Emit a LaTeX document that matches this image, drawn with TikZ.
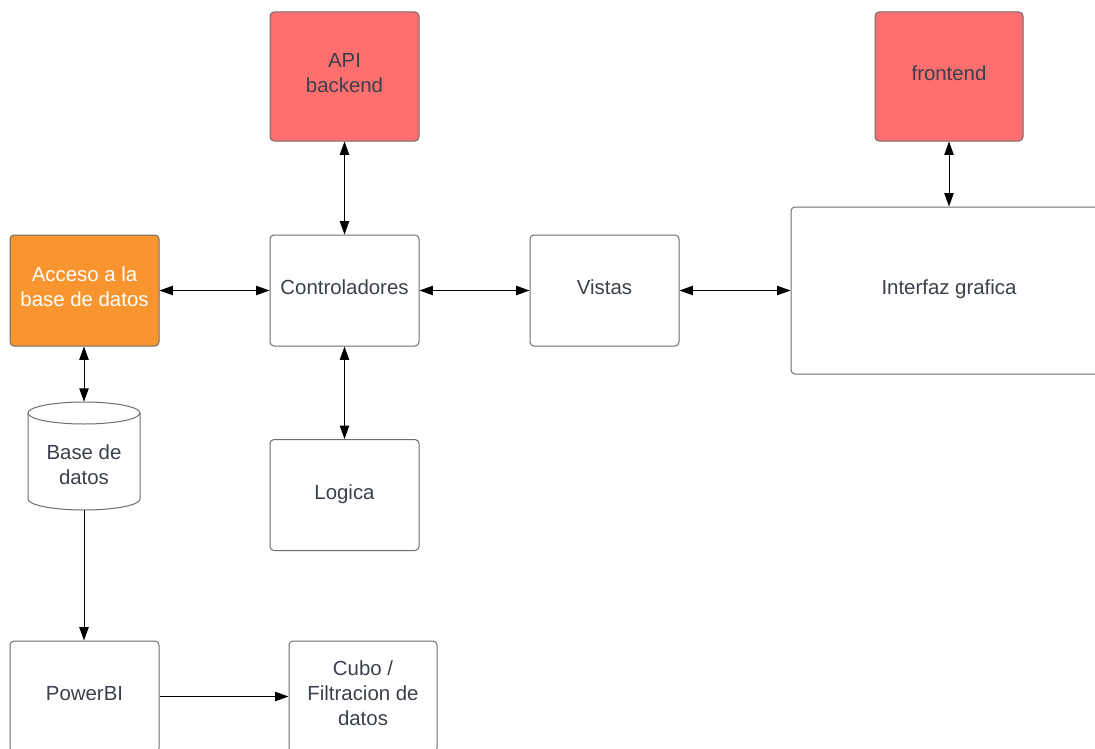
\documentclass[tikz,border=0pt]{standalone}
\usepackage{fontspec}
\setmainfont{Liberation Sans}
\usetikzlibrary{arrows.meta}
\definecolor{edge}{HTML}{6E6E6E}
\definecolor{ink}{HTML}{3A414A}
\definecolor{redbox}{HTML}{FF6F6F}
\definecolor{orangebox}{HTML}{F9952F}
\tikzset{
  labeltext/.style={inner sep=0pt, align=center, text=ink,
    font=\fontsize{15.3pt}{18.75pt}\selectfont,
    execute at begin node={\rule{0pt}{11.5pt}},
    execute at end node={\rule[-5.5pt]{0pt}{5.5pt}}},
  block/.style={labeltext, draw=edge, line width=0.75pt, rounded corners=3pt, fill=white,
    minimum width=111.75pt, minimum height=83.25pt},
  hot/.style={block, fill=redbox},
  warm/.style={block, fill=orangebox, text=white},
  link/.style={line width=0.75pt, black,
    {Triangle[length=10pt,width=7pt]}-{Triangle[length=10pt,width=7pt]}},
  flow/.style={line width=0.75pt, black, -{Triangle[length=10pt,width=7pt]}}
}
\begin{document}
\begin{tikzpicture}[x=0.75pt, y=-0.75pt]
  \clip (0,0) rectangle (1095,749);
  \fill[white] (0,0) rectangle (1095,749);

  % top row: services
  \node[hot, minimum height=96.75pt] (api) at (344.5,76.5) {API\\backend};
  \node[hot, minimum width=111pt, minimum height=96.75pt] (front) at (949,76.5) {frontend};

  % middle row: layers
  \node[warm] (acc) at (84.5,290.5) {Acceso a la\\base de datos};
  \node[block] (ctrl) at (344.5,290.5) {Controladores};
  \node[block] (vis) at (604.5,290.5) {Vistas};
  \node[block, minimum width=237pt, minimum height=125.25pt] (gui) at (949,290.5) {Interfaz grafica};

  % database cylinder
  \node[inner sep=0pt, minimum width=84pt, minimum height=81pt] (db) at (84,456) {};
  \draw[edge, line width=0.75pt, fill=white]
    (28,413) -- (28,499) arc[start angle=180, end angle=0, x radius=56, y radius=11]
    -- (140,413) arc[start angle=0, end angle=-180, x radius=56, y radius=11] -- cycle;
  \draw[edge, line width=0.75pt] (28,413) arc[start angle=180, end angle=0, x radius=56, y radius=11];
  \node[labeltext] (dbtext) at (84,468.5) {Base de\\datos};

  \node[block] (logic) at (344.5,495) {Logica};

  % bottom row: reporting
  \node[block] (pbi) at (84.5,696.5) {PowerBI};
  \node[block, minimum width=111pt] (cubo) at (363,696.5) {Cubo /\\Filtracion de\\datos};

  % connectors
  \draw[link] (api.south) -- (ctrl.north);
  \draw[link] (front.south) -- (gui.north -| front.south);
  \draw[link] (acc.east) -- (ctrl.west);
  \draw[link] (ctrl.east) -- (vis.west);
  \draw[link] (vis.east) -- (gui.west);
  \draw[link] (ctrl.south) -- (logic.north);
  \draw[link] (acc.south -| db.north) -- (db.north);
  \draw[flow] (db.south) -- (pbi.north -| db.south);
  \draw[flow] (pbi.east) -- (cubo.west);
\end{tikzpicture}
\end{document}
